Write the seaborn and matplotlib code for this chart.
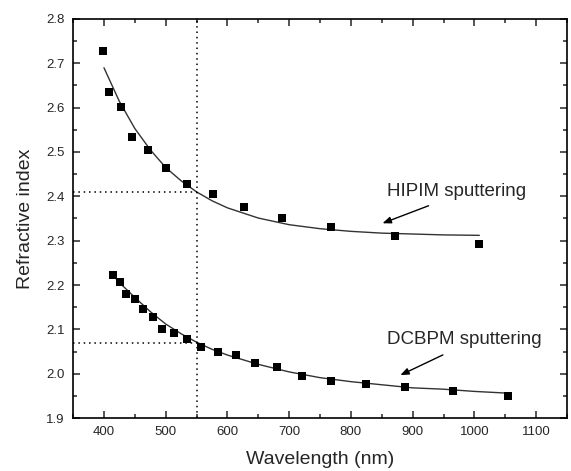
import matplotlib
matplotlib.use("Agg")
import matplotlib.pyplot as plt
from matplotlib.ticker import MultipleLocator
import seaborn as sns
import pandas as pd

hipim_wl = [398, 408, 428, 446, 472, 500, 534, 576, 627, 689, 768, 872, 1008]
hipim_n = [2.728, 2.635, 2.601, 2.534, 2.504, 2.463, 2.428, 2.406, 2.376, 2.350, 2.331, 2.311, 2.292]

dcbpm_wl = [414, 426, 435, 450, 464, 479, 494, 514, 535, 557, 584, 614, 645, 680,
            720, 767, 824, 888, 965, 1055]
dcbpm_n = [2.222, 2.206, 2.179, 2.169, 2.146, 2.127, 2.101, 2.091, 2.078, 2.060, 2.048, 2.042,
           2.024, 2.014, 1.994, 1.984, 1.977, 1.969, 1.961, 1.950]

# fitted curves
hipim_fit_wl = [400, 425, 450, 475, 500, 525, 550, 575, 600, 650, 700, 750, 800, 850, 900, 950, 1008]
hipim_fit_n = [2.690, 2.614, 2.553, 2.505, 2.465, 2.435, 2.410, 2.390, 2.374, 2.351, 2.336,
               2.327, 2.321, 2.317, 2.315, 2.313, 2.312]

dcbpm_fit_wl = [420, 450, 475, 500, 525, 550, 575, 600, 650, 700, 750, 800, 850, 900, 950, 1000, 1055]
dcbpm_fit_n = [2.212, 2.172, 2.140, 2.112, 2.090, 2.071, 2.055, 2.042, 2.021, 2.004, 1.991,
               1.982, 1.975, 1.968, 1.965, 1.960, 1.956]

# reference wavelength and the indices read there
ref_wl = 550
ref_n = [2.41, 2.07]

pts = pd.DataFrame({"wl": hipim_wl + dcbpm_wl,
                    "n": hipim_n + dcbpm_n,
                    "set": ["HIPIM"] * len(hipim_wl) + ["DCBPM"] * len(dcbpm_wl)})

sns.set_style("ticks")
plt.rcParams['font.family'] = ['Liberation Sans', 'DejaVu Sans']

fig = plt.figure(figsize=(5.71, 4.71), dpi=100)
ax = fig.add_axes([0.128, 0.1125, 0.865, 0.8472])

sns.lineplot(x=hipim_fit_wl, y=hipim_fit_n, color="#333333", lw=1.0, ax=ax)
sns.lineplot(x=dcbpm_fit_wl, y=dcbpm_fit_n, color="#333333", lw=1.0, ax=ax)
sns.scatterplot(data=pts, x="wl", y="n", marker="s", s=38, color="black",
                edgecolor="black", linewidth=0, legend=False, ax=ax, zorder=3)

# dotted guide lines
ax.axvline(ref_wl, color="black", ls=(0, (1, 2.5)), lw=1.1)
for n in ref_n:
    ax.plot([350, ref_wl], [n, n], color="black", ls=(0, (1, 2.5)), lw=1.1)

ax.text(858, 2.41, "HIPIM sputtering", fontsize=13.5, va="center", ha="left")
ax.annotate("", xy=(847, 2.337), xytext=(930, 2.381),
            arrowprops=dict(arrowstyle="-|>,head_length=0.5,head_width=0.2", color="black", lw=1.0))
ax.text(858, 2.077, "DCBPM sputtering", fontsize=13.5, va="center", ha="left")
ax.annotate("", xy=(876, 1.994), xytext=(953, 2.045),
            arrowprops=dict(arrowstyle="-|>,head_length=0.5,head_width=0.2", color="black", lw=1.0))

ax.set_xlim(350, 1150)
ax.set_ylim(1.9, 2.8)
ax.xaxis.set_major_locator(MultipleLocator(100))
ax.xaxis.set_minor_locator(MultipleLocator(50))
ax.yaxis.set_major_locator(MultipleLocator(0.1))
ax.yaxis.set_minor_locator(MultipleLocator(0.05))
ax.set_xticks([400, 500, 600, 700, 800, 900, 1000, 1100])
ax.set_yticks([1.9, 2.0, 2.1, 2.2, 2.3, 2.4, 2.5, 2.6, 2.7, 2.8])
ax.set_yticklabels(["1.9", "2.0", "2.1", "2.2", "2.3", "2.4", "2.5", "2.6", "2.7", "2.8"])

ax.tick_params(which="both", direction="in", top=True, right=True, labelsize=9.5, pad=6, width=1.1)
ax.tick_params(which="major", length=5)
ax.tick_params(which="minor", length=3)
for sp in ax.spines.values():
    sp.set_linewidth(1.2)
    sp.set_color("black")

ax.set_xlabel("Wavelength (nm)", fontsize=14, labelpad=9)
ax.set_ylabel("Refractive index", fontsize=14, labelpad=9)

fig.savefig("out.png", dpi=100)
